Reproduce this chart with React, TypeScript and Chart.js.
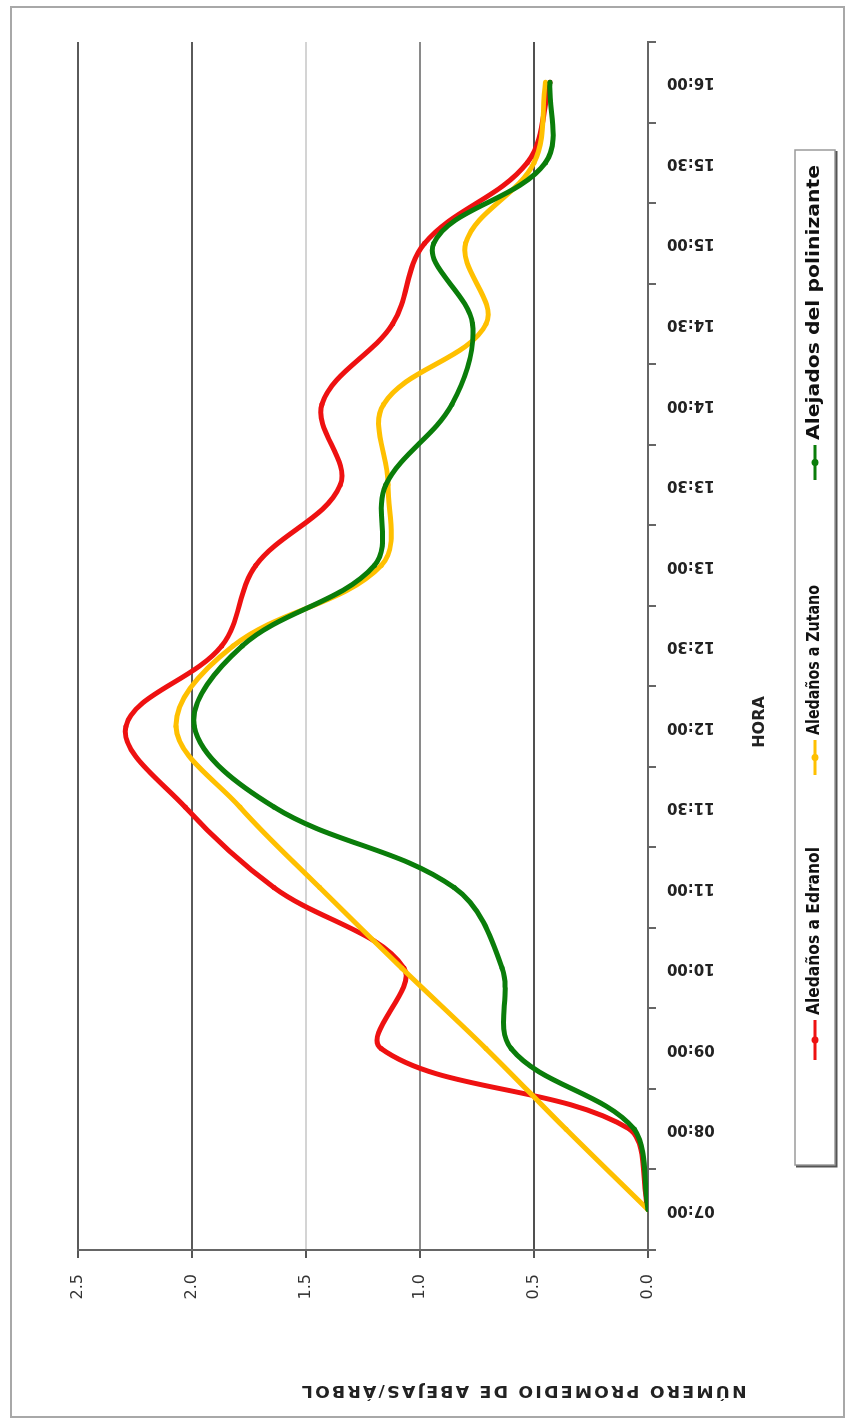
import React, { useEffect, useRef } from "react";
import { Chart, registerables } from "chart.js";

Chart.register(...registerables);

// ---- data ----
const horas = ["07:00", "08:00", "09:00", "10:00", "11:00", "11:30", "12:00", "12:30", "13:00", "13:30", "14:00", "14:30", "15:00", "15:30", "16:00"];
const edranol = [0, 0.08, 1.17, 1.07, 1.64, 2.03, 2.29, 1.87, 1.72, 1.35, 1.43, 1.12, 0.98, 0.53, 0.43];
const zutano = [0, 0.36, 0.71, 1.08, 1.44, 1.79, 2.07, 1.82, 1.17, 1.14, 1.16, 0.71, 0.8, 0.5, 0.45];
const alejados = [0, 0.06, 0.6, 0.64, 0.85, 1.64, 1.99, 1.78, 1.2, 1.15, 0.86, 0.77, 0.94, 0.45, 0.43];
const valueTicks = [0, 0.5, 1, 1.5, 2, 2.5];
const gridColors = ["#555555", "#505050", "#8a8a8a", "#d4d4d4", "#5a5a5a", "#5a5a5a"];

const seriesNames = ["Aledaños a Edranol", "Aledaños a Zutano", "Alejados del polinizante"];
const seriesColors = ["#ee1111", "#ffc000", "#0a7d0a"];
const yTitle = "NÚMERO PROMEDIO DE ABEJAS/ÁRBOL";
const xTitle = "HORA";

const W = 1421;
const H = 847;

const overlayPlugin = {
  id: "overlay",
  beforeDraw(chart: any) {
    const ctx = chart.ctx as CanvasRenderingContext2D;
    ctx.save();
    ctx.fillStyle = "#ffffff";
    ctx.fillRect(0, 0, chart.width, chart.height);
    ctx.restore();
  },
  afterDraw(chart: any) {
    const ctx = chart.ctx as CanvasRenderingContext2D;

    // value axis title (reads bottom-to-top in this frame)
    ctx.save();
    ctx.translate(31, 523);
    ctx.rotate(-Math.PI / 2);
    ctx.font = 'bold 15px "DejaVu Sans"';
    ctx.fillStyle = "#222";
    ctx.textBaseline = "middle";
    ctx.textAlign = "left";
    (ctx as any).letterSpacing = "2px";
    const targetW = 447;
    const w0 = ctx.measureText(yTitle).width;
    const sc0 = targetW / w0;
    ctx.scale(sc0, 1);
    ctx.fillText(yTitle, -w0 / 2, 0);
    ctx.restore();

    // category axis title
    ctx.save();
    ctx.font = 'bold 16px "DejaVu Sans"';
    ctx.fillStyle = "#222";
    ctx.textAlign = "center";
    ctx.textBaseline = "middle";
    ctx.fillText(xTitle, 699, 760);
    ctx.restore();

    // legend box
    ctx.save();
    const bx = 256, by = 795, bw = 1015, bh = 40;
    ctx.strokeStyle = "#9a9a9a";
    ctx.lineWidth = 1.5;
    ctx.strokeRect(bx, by, bw, bh);
    ctx.strokeStyle = "#555";
    ctx.lineWidth = 2;
    ctx.beginPath();
    ctx.moveTo(bx - 1.5, by + 1);
    ctx.lineTo(bx - 1.5, by + bh + 1.5);
    ctx.lineTo(bx + bw - 1, by + bh + 1.5);
    ctx.stroke();
    ctx.restore();

    const items = [
      { m0: 361, m1: 401, t0: 406, t1: 574 },
      { m0: 646, m1: 681, t0: 686, t1: 836 },
      { m0: 941, m1: 976, t0: 981, t1: 1256 },
    ];
    const cy = 815;
    items.forEach((it, i) => {
      ctx.save();
      ctx.strokeStyle = seriesColors[i];
      ctx.fillStyle = seriesColors[i];
      ctx.lineWidth = 3;
      ctx.beginPath();
      ctx.moveTo(it.m0, cy);
      ctx.lineTo(it.m1, cy);
      ctx.stroke();
      ctx.beginPath();
      ctx.arc((it.m0 + it.m1) / 2, cy, 3.5, 0, Math.PI * 2);
      ctx.fill();
      ctx.restore();

      ctx.save();
      ctx.font = 'bold 17px "DejaVu Sans Condensed", "DejaVu Sans"';
      ctx.fillStyle = "#111";
      ctx.textBaseline = "middle";
      ctx.textAlign = "left";
      const tw = ctx.measureText(seriesNames[i]).width;
      const sc = (it.t1 - it.t0) / tw;
      ctx.translate(it.t0, cy);
      ctx.scale(sc, 1);
      ctx.fillText(seriesNames[i], 0, 0);
      ctx.restore();
    });
  },
};

export default function App() {
  const canvasRef = useRef<HTMLCanvasElement | null>(null);

  useEffect(() => {
    const canvas = canvasRef.current;
    if (!canvas) return;
    const datasets = [edranol, zutano, alejados].map((vals, i) => ({
      label: seriesNames[i],
      data: vals,
      borderColor: seriesColors[i],
      backgroundColor: seriesColors[i],
      borderWidth: 5,
      pointRadius: 2.5,
      pointBorderWidth: 0,
      pointBackgroundColor: seriesColors[i],
      tension: 0.36,
      fill: false,
      order: 3 - i,
    }));

    const chart = new Chart(canvas, {
      type: "line",
      data: { labels: horas, datasets },
      options: {
        responsive: false,
        animation: false,
        devicePixelRatio: 1,
        layout: { padding: { top: 78, right: 42, left: 0, bottom: 0 } },
        plugins: {
          legend: { display: false },
          tooltip: { enabled: false },
          title: { display: false },
        },
        scales: {
          x: {
            type: "category",
            offset: true,
            grid: {
              offset: true,
              drawOnChartArea: false,
              drawTicks: true,
              tickLength: 8,
              color: "#666",
              lineWidth: 2,
            },
            border: { display: true, color: "#666", width: 2 },
            ticks: {
              autoSkip: false,
              minRotation: 90,
              maxRotation: 90,
              padding: 11,
              color: "#222",
              font: { family: '"DejaVu Sans"', size: 15, weight: "bold" },
            },
            afterFit: (s: any) => {
              s.height = 199;
            },
          },
          y: {
            min: 0,
            max: 2.5,
            afterBuildTicks: (s: any) => {
              s.ticks = valueTicks.map((v) => ({ value: v }));
            },
            ticks: {
              callback: (v: any) => Number(v).toFixed(1),
              padding: 16,
              color: "#333",
              font: { family: '"DejaVu Sans"', size: 16 },
            },
            grid: {
              color: (c: any) => {
                const idx = valueTicks.indexOf(c.tick ? c.tick.value : -1);
                return idx >= 0 ? gridColors[idx] : "#666";
              },
              lineWidth: 2,
              tickLength: 8,
              tickColor: "#555",
            },
            border: { display: true, color: "#666", width: 2 },
            afterFit: (s: any) => {
              s.width = 171;
            },
          },
        },
      },
      plugins: [overlayPlugin],
    } as any);

    return () => chart.destroy();
  }, []);

  return (
    <div
      style={{
        position: "absolute",
        left: 0,
        top: 0,
        width: 847,
        height: 1421,
        overflow: "hidden",
        background: "#fff",
      }}
    >
      <div
        style={{
          position: "absolute",
          left: 0,
          top: 0,
          width: W,
          height: H,
          transformOrigin: "0 0",
          transform: `translateY(${W}px) rotate(-90deg)`,
        }}
      >
        <canvas ref={canvasRef} width={W} height={H} style={{ display: "block", width: W, height: H }} />
      </div>
      <div
        style={{
          position: "absolute",
          left: 10,
          top: 6,
          width: 831,
          height: 1408,
          border: "2px solid #a8a8a8",
          pointerEvents: "none",
        }}
      />
    </div>
  );
}
